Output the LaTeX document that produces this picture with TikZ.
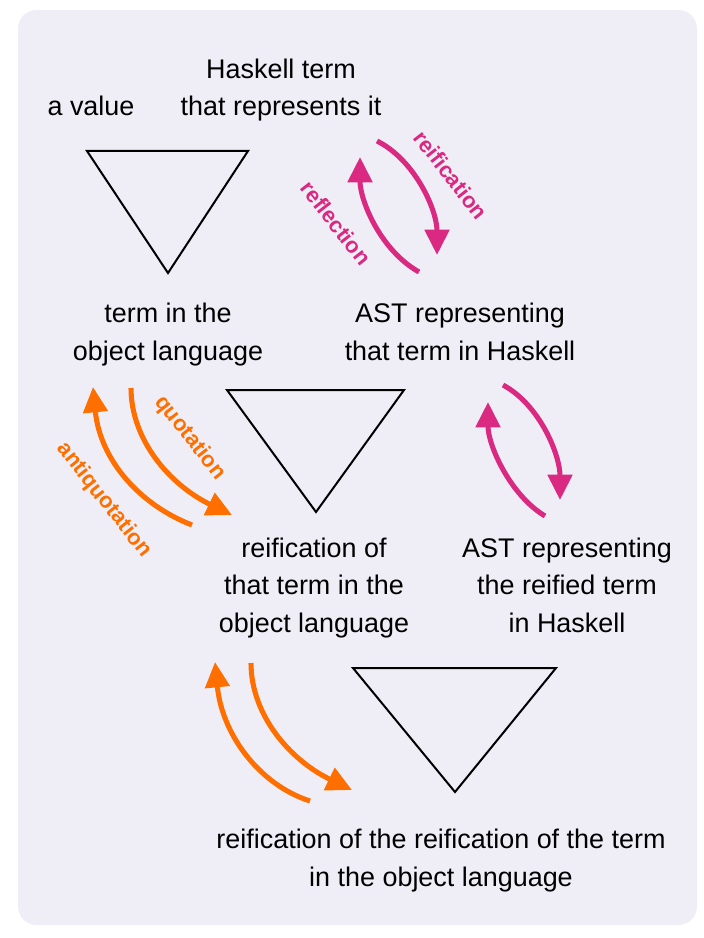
\documentclass[tikz,border=0pt]{standalone}
\usepackage{fontspec}
\setmainfont{Liberation Sans}
\usetikzlibrary{arrows.meta}
\definecolor{bgc}{RGB}{239,238,247}
\definecolor{pinkc}{RGB}{218,41,128}
\definecolor{orangec}{RGB}{255,111,0}
\begin{document}
\begin{tikzpicture}[x=0.75pt,y=-0.75pt,
  txt/.style={align=center,font=\fontsize{20.2}{28}\selectfont,inner sep=0pt},
  lbl/.style={font=\fontsize{16.5}{18}\selectfont\bfseries,inner sep=0pt},
  tri/.style={draw=black,line width=1.5pt,line join=miter},
  parr/.style={draw=pinkc,line width=3.8pt,-{Triangle[length=19pt,width=18pt]}},
  oarr/.style={draw=orangec,line width=3.8pt,-{Triangle[length=19pt,width=18pt]}}]
\useasboundingbox (0,0) rectangle (703,938);
\fill[bgc,rounded corners=14pt] (18,10) rectangle (697,925);
% triangles
\draw[tri] (87,151) -- (248,151) -- (168,273) -- cycle;
\draw[tri] (227,390) -- (404,390) -- (316,512) -- cycle;
\draw[tri] (353,668) -- (556,668) -- (455,792) -- cycle;
% texts (base = baseline of last line)
\node[txt,anchor=base] (val) at (91,116) {a value};
\node[txt,anchor=base] (hask) at (281,116) {Haskell term\\that represents it};
\node[txt,anchor=base] (obj) at (168,360) {term in the\\object language};
\node[txt,anchor=base] (ast1) at (460,360) {AST representing\\that term in Haskell};
\node[txt,anchor=base] (reif) at (314,632) {reification of\\that term in the\\object language};
\node[txt,anchor=base] (ast2) at (567,632) {AST representing\\the reified term\\in Haskell};
\node[txt,anchor=base] (rr) at (441,886) {reification of the reification of the term\\in the object language};
% pink top
\coordinate (a1) at (377,141); \coordinate (a2) at (437,255);
\coordinate (b1) at (419,272); \coordinate (b2) at (360,157);
\draw[parr] (a1) .. controls (415,160) and (437,210) .. (a2);
\draw[parr] (b1) .. controls (380,250) and (360,200) .. (b2);
\node[lbl,text=pinkc,rotate=-52] (lreif) at (451,175) {reification};
\node[lbl,text=pinkc,rotate=-52] (lrefl) at (336,223) {reflection};
% pink middle
\coordinate (c1) at (503,385); \coordinate (c2) at (560,500);
\coordinate (d1) at (545,516); \coordinate (d2) at (488,402);
\draw[parr] (c1) .. controls (540,405) and (560,455) .. (c2);
\draw[parr] (d1) .. controls (510,495) and (488,445) .. (d2);
% orange middle
\coordinate (e1) at (131,388); \coordinate (e2) at (232,515);
\coordinate (f1) at (192,525); \coordinate (f2) at (93,387);
\draw[oarr] (e1) .. controls (131,440) and (170,485) .. (e2);
\draw[oarr] (f1) .. controls (140,505) and (100,460) .. (f2);
\node[lbl,text=orangec,rotate=-52] (lquo) at (190,438) {quotation};
\node[lbl,text=orangec,rotate=-52] (lanti) at (104,500) {antiquotation};
% orange bottom
\coordinate (g1) at (251,663); \coordinate (g2) at (352,790);
\coordinate (h1) at (310,801); \coordinate (h2) at (215,662);
\draw[oarr] (g1) .. controls (251,715) and (290,760) .. (g2);
\draw[oarr] (h1) .. controls (260,785) and (222,735) .. (h2);
\end{tikzpicture}
\end{document}
